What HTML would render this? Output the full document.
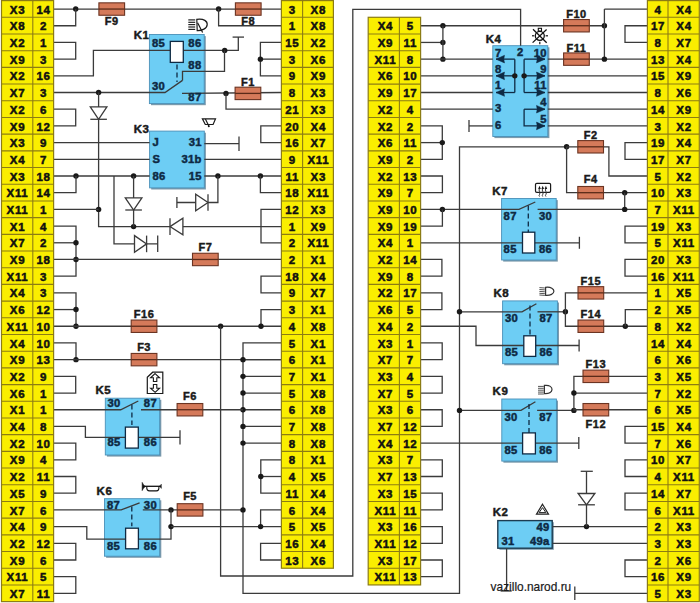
<!DOCTYPE html>
<html><head><meta charset="utf-8"><style>
html,body{margin:0;padding:0;background:#fff;width:700px;height:603px;overflow:hidden}
svg{display:block}
text{font-family:"Liberation Sans",sans-serif;font-weight:bold}
.c{font-size:11.5px;text-anchor:middle;fill:#111;stroke:#111;stroke-width:0.5;letter-spacing:0.7px}
.f{font-size:11px;text-anchor:middle;fill:#1a1a1a;stroke:#1a1a1a;stroke-width:0.45;letter-spacing:0.5px}
.p{font-size:10.2px;fill:#0e2a44;stroke:#0e2a44;stroke-width:0.45;letter-spacing:0.3px}
.k{font-size:11.5px;fill:#1a1a1a;stroke:#1a1a1a;stroke-width:0.45;letter-spacing:0.5px}
.u{font-size:11.9px;font-weight:normal;fill:#1a1a1a;stroke:#1a1a1a;stroke-width:0.2}
</style></head><body>
<svg width="700" height="603" viewBox="0 0 700 603">
<rect x="151.00" y="36.10" width="54.80" height="69.10" fill="#7d9aab"/>
<rect x="149.40" y="34.50" width="54.80" height="69.10" fill="#6dcdf4" stroke="#4a90b8" stroke-width="0.9"/>
<rect x="151.20" y="132.70" width="54.70" height="56.80" fill="#7d9aab"/>
<rect x="149.60" y="131.10" width="54.70" height="56.80" fill="#6dcdf4" stroke="#4a90b8" stroke-width="0.9"/>
<rect x="106.90" y="399.80" width="54.40" height="56.80" fill="#7d9aab"/>
<rect x="105.30" y="398.20" width="54.40" height="56.80" fill="#6dcdf4" stroke="#4a90b8" stroke-width="0.9"/>
<rect x="106.10" y="500.30" width="55.20" height="57.50" fill="#7d9aab"/>
<rect x="104.50" y="498.70" width="55.20" height="57.50" fill="#6dcdf4" stroke="#4a90b8" stroke-width="0.9"/>
<rect x="494.40" y="47.30" width="55.00" height="90.80" fill="#7d9aab"/>
<rect x="492.80" y="45.70" width="55.00" height="90.80" fill="#6dcdf4" stroke="#4a90b8" stroke-width="0.9"/>
<rect x="503.20" y="200.10" width="54.60" height="61.50" fill="#7d9aab"/>
<rect x="501.60" y="198.50" width="54.60" height="61.50" fill="#6dcdf4" stroke="#4a90b8" stroke-width="0.9"/>
<rect x="504.20" y="302.50" width="54.80" height="62.80" fill="#7d9aab"/>
<rect x="502.60" y="300.90" width="54.80" height="62.80" fill="#6dcdf4" stroke="#4a90b8" stroke-width="0.9"/>
<rect x="503.40" y="400.60" width="54.60" height="62.10" fill="#7d9aab"/>
<rect x="501.80" y="399.00" width="54.60" height="62.10" fill="#6dcdf4" stroke="#4a90b8" stroke-width="0.9"/>
<rect x="499.40" y="522.20" width="54.40" height="27.60" fill="#7d9aab"/>
<rect x="497.80" y="520.60" width="54.40" height="27.60" fill="#6dcdf4" stroke="#1d3c52" stroke-width="1.4"/>
<polyline points="53.60,9.05 281.40,9.05" fill="none" stroke="#3b3b3b" stroke-width="1.3"/>
<circle cx="75.70" cy="9.05" r="2.7" fill="#1a1a1a"/>
<polyline points="53.60,25.74 75.70,25.74 75.70,9.05" fill="none" stroke="#3b3b3b" stroke-width="1.3"/>
<polyline points="53.60,42.44 75.70,42.44 75.70,59.13 53.60,59.13" fill="none" stroke="#3b3b3b" stroke-width="1.3"/>
<circle cx="218.60" cy="9.05" r="2.7" fill="#1a1a1a"/>
<polyline points="281.40,25.74 218.60,25.74 218.60,9.05" fill="none" stroke="#3b3b3b" stroke-width="1.3"/>
<polyline points="53.60,75.83 93.40,75.83 93.40,50.40 224.70,50.40 238.30,50.40 238.30,37.10" fill="none" stroke="#3b3b3b" stroke-width="1.3"/>
<polyline points="232.60,37.10 244.00,37.10" fill="none" stroke="#3b3b3b" stroke-width="1.3"/>
<circle cx="224.70" cy="50.40" r="2.7" fill="#1a1a1a"/>
<polyline points="182.50,80.40 182.50,71.40 224.50,71.40 224.50,50.40" fill="none" stroke="#3b3b3b" stroke-width="1.3"/>
<polyline points="53.60,92.52 165.00,92.52 182.50,80.40" fill="none" stroke="#3b3b3b" stroke-width="1.3"/>
<circle cx="98.60" cy="92.52" r="2.7" fill="#1a1a1a"/>
<polyline points="182.00,93.40 281.40,92.52" fill="none" stroke="#3b3b3b" stroke-width="1.3"/>
<circle cx="226.00" cy="93.40" r="2.7" fill="#1a1a1a"/>
<polyline points="226.00,93.40 226.00,109.22 281.40,109.22" fill="none" stroke="#3b3b3b" stroke-width="1.3"/>
<polyline points="281.40,42.44 260.40,42.44 260.40,75.83 281.40,75.83" fill="none" stroke="#3b3b3b" stroke-width="1.3"/>
<polyline points="281.40,59.13 260.40,59.13" fill="none" stroke="#3b3b3b" stroke-width="1.3"/>
<circle cx="260.40" cy="59.13" r="2.7" fill="#1a1a1a"/>
<polyline points="53.60,109.22 75.70,109.22 75.70,125.91 53.60,125.91" fill="none" stroke="#3b3b3b" stroke-width="1.3"/>
<polyline points="281.40,125.91 260.80,125.91 260.80,142.61 281.40,142.61" fill="none" stroke="#3b3b3b" stroke-width="1.3"/>
<polyline points="53.60,142.61 149.60,142.61" fill="none" stroke="#3b3b3b" stroke-width="1.3"/>
<polyline points="53.60,159.30 149.60,159.30" fill="none" stroke="#3b3b3b" stroke-width="1.3"/>
<polyline points="204.30,159.30 281.40,159.30" fill="none" stroke="#3b3b3b" stroke-width="1.3"/>
<polyline points="204.30,143.70 239.00,143.70" fill="none" stroke="#3b3b3b" stroke-width="1.3"/>
<polyline points="239.00,136.40 239.00,151.00" fill="none" stroke="#3b3b3b" stroke-width="1.3"/>
<polyline points="53.60,176.00 149.60,176.00" fill="none" stroke="#3b3b3b" stroke-width="1.3"/>
<polyline points="204.30,176.00 281.40,176.00" fill="none" stroke="#3b3b3b" stroke-width="1.3"/>
<circle cx="76.00" cy="176.00" r="2.7" fill="#1a1a1a"/>
<circle cx="133.60" cy="176.00" r="2.7" fill="#1a1a1a"/>
<polyline points="53.60,192.69 76.00,192.69 76.00,176.00" fill="none" stroke="#3b3b3b" stroke-width="1.3"/>
<circle cx="217.90" cy="176.00" r="2.7" fill="#1a1a1a"/>
<circle cx="260.40" cy="176.00" r="2.7" fill="#1a1a1a"/>
<polyline points="281.40,192.69 260.40,192.69 260.40,176.00" fill="none" stroke="#3b3b3b" stroke-width="1.3"/>
<polyline points="98.60,92.52 98.60,226.60 281.40,226.60" fill="none" stroke="#3b3b3b" stroke-width="1.3"/>
<circle cx="98.60" cy="209.39" r="2.7" fill="#1a1a1a"/>
<polyline points="53.60,209.39 98.60,209.39" fill="none" stroke="#3b3b3b" stroke-width="1.3"/>
<circle cx="133.60" cy="226.60" r="2.7" fill="#1a1a1a"/>
<polyline points="133.60,176.00 133.60,226.60" fill="none" stroke="#3b3b3b" stroke-width="1.3"/>
<polyline points="114.00,176.00 114.00,243.90 157.70,243.90" fill="none" stroke="#3b3b3b" stroke-width="1.3"/>
<polyline points="157.70,235.50 157.70,252.00" fill="none" stroke="#3b3b3b" stroke-width="1.3"/>
<polyline points="217.90,176.00 217.90,202.50 176.90,202.50" fill="none" stroke="#3b3b3b" stroke-width="1.3"/>
<polyline points="176.90,197.00 176.90,208.00" fill="none" stroke="#3b3b3b" stroke-width="1.3"/>
<polyline points="281.40,209.39 261.00,209.39 261.00,242.78 281.40,242.78" fill="none" stroke="#3b3b3b" stroke-width="1.3"/>
<polyline points="53.60,226.08 76.00,226.08 76.00,276.17 53.60,276.17" fill="none" stroke="#3b3b3b" stroke-width="1.3"/>
<polyline points="53.60,242.78 76.00,242.78" fill="none" stroke="#3b3b3b" stroke-width="1.3"/>
<circle cx="76.00" cy="242.78" r="2.7" fill="#1a1a1a"/>
<circle cx="76.00" cy="259.47" r="2.7" fill="#1a1a1a"/>
<polyline points="53.60,259.47 281.40,259.47" fill="none" stroke="#3b3b3b" stroke-width="1.3"/>
<polyline points="281.40,276.17 261.00,276.17 261.00,292.86 281.40,292.86" fill="none" stroke="#3b3b3b" stroke-width="1.3"/>
<polyline points="53.60,292.86 76.00,292.86 76.00,326.25" fill="none" stroke="#3b3b3b" stroke-width="1.3"/>
<polyline points="53.60,309.56 76.00,309.56" fill="none" stroke="#3b3b3b" stroke-width="1.3"/>
<circle cx="76.00" cy="309.56" r="2.7" fill="#1a1a1a"/>
<circle cx="76.00" cy="326.25" r="2.7" fill="#1a1a1a"/>
<polyline points="53.60,326.25 281.40,326.25" fill="none" stroke="#3b3b3b" stroke-width="1.3"/>
<polyline points="281.40,309.56 261.00,309.56 261.00,326.25" fill="none" stroke="#3b3b3b" stroke-width="1.3"/>
<circle cx="261.00" cy="326.25" r="2.7" fill="#1a1a1a"/>
<circle cx="220.60" cy="326.25" r="2.7" fill="#1a1a1a"/>
<polyline points="220.60,326.25 220.60,576.00 352.80,576.00 352.80,9.40 520.60,9.40 520.60,45.70" fill="none" stroke="#3b3b3b" stroke-width="1.3"/>
<polyline points="53.60,342.95 76.00,342.95 76.00,359.64" fill="none" stroke="#3b3b3b" stroke-width="1.3"/>
<circle cx="76.00" cy="359.64" r="2.7" fill="#1a1a1a"/>
<polyline points="53.60,359.64 281.40,359.64" fill="none" stroke="#3b3b3b" stroke-width="1.3"/>
<polyline points="281.40,342.95 243.00,342.95 243.00,593.40 459.50,593.40 459.50,146.80 566.60,146.80" fill="none" stroke="#3b3b3b" stroke-width="1.3"/>
<polyline points="281.40,359.64 243.00,359.64" fill="none" stroke="#3b3b3b" stroke-width="1.3"/>
<circle cx="243.00" cy="359.64" r="2.7" fill="#1a1a1a"/>
<polyline points="281.40,376.34 243.00,376.34" fill="none" stroke="#3b3b3b" stroke-width="1.3"/>
<circle cx="243.00" cy="376.34" r="2.7" fill="#1a1a1a"/>
<polyline points="281.40,393.03 243.00,393.03" fill="none" stroke="#3b3b3b" stroke-width="1.3"/>
<circle cx="243.00" cy="393.03" r="2.7" fill="#1a1a1a"/>
<polyline points="281.40,409.73 243.00,409.73" fill="none" stroke="#3b3b3b" stroke-width="1.3"/>
<circle cx="243.00" cy="409.73" r="2.7" fill="#1a1a1a"/>
<polyline points="281.40,426.42 243.00,426.42" fill="none" stroke="#3b3b3b" stroke-width="1.3"/>
<circle cx="243.00" cy="426.42" r="2.7" fill="#1a1a1a"/>
<polyline points="281.40,443.12 243.00,443.12" fill="none" stroke="#3b3b3b" stroke-width="1.3"/>
<circle cx="243.00" cy="443.12" r="2.7" fill="#1a1a1a"/>
<polyline points="53.60,376.34 75.70,376.34 75.70,393.03 53.60,393.03" fill="none" stroke="#3b3b3b" stroke-width="1.3"/>
<polyline points="53.60,409.73 120.70,409.73 138.30,401.00" fill="none" stroke="#3b3b3b" stroke-width="1.3"/>
<polyline points="141.00,409.73 243.00,409.73" fill="none" stroke="#3b3b3b" stroke-width="1.3"/>
<polyline points="53.60,426.42 85.40,426.42 85.40,437.40 180.00,437.40" fill="none" stroke="#3b3b3b" stroke-width="1.3"/>
<polyline points="180.00,430.20 180.00,444.50" fill="none" stroke="#3b3b3b" stroke-width="1.3"/>
<polyline points="53.60,443.12 75.80,443.12 75.80,459.81 53.60,459.81" fill="none" stroke="#3b3b3b" stroke-width="1.3"/>
<polyline points="53.60,476.51 75.80,476.51 75.80,493.20 53.60,493.20" fill="none" stroke="#3b3b3b" stroke-width="1.3"/>
<polyline points="281.40,459.81 260.80,459.81 260.80,493.20 281.40,493.20" fill="none" stroke="#3b3b3b" stroke-width="1.3"/>
<polyline points="281.40,476.51 260.80,476.51" fill="none" stroke="#3b3b3b" stroke-width="1.3"/>
<circle cx="260.80" cy="476.51" r="2.7" fill="#1a1a1a"/>
<polyline points="53.60,509.90 121.20,509.90 139.60,502.90" fill="none" stroke="#3b3b3b" stroke-width="1.3"/>
<polyline points="142.80,509.90 243.00,509.90" fill="none" stroke="#3b3b3b" stroke-width="1.3"/>
<circle cx="243.00" cy="509.90" r="2.7" fill="#1a1a1a"/>
<circle cx="171.00" cy="509.90" r="2.7" fill="#1a1a1a"/>
<polyline points="53.60,526.59 86.80,526.59 86.80,539.20 171.00,539.20 171.00,509.90" fill="none" stroke="#3b3b3b" stroke-width="1.3"/>
<circle cx="171.00" cy="526.59" r="2.7" fill="#1a1a1a"/>
<polyline points="171.00,526.59 281.40,526.59" fill="none" stroke="#3b3b3b" stroke-width="1.3"/>
<polyline points="281.40,509.90 260.60,509.90 260.60,526.59" fill="none" stroke="#3b3b3b" stroke-width="1.3"/>
<circle cx="260.60" cy="526.59" r="2.7" fill="#1a1a1a"/>
<polyline points="281.40,543.29 260.60,543.29 260.60,559.98 281.40,559.98" fill="none" stroke="#3b3b3b" stroke-width="1.3"/>
<polyline points="53.60,543.29 75.80,543.29 75.80,559.98 53.60,559.98" fill="none" stroke="#3b3b3b" stroke-width="1.3"/>
<polyline points="53.60,576.68 75.80,576.68 75.80,593.37 53.60,593.37" fill="none" stroke="#3b3b3b" stroke-width="1.3"/>
<polyline points="420.60,25.74 604.40,25.74" fill="none" stroke="#3b3b3b" stroke-width="1.3"/>
<circle cx="442.90" cy="25.74" r="2.7" fill="#1a1a1a"/>
<circle cx="604.40" cy="25.74" r="2.7" fill="#1a1a1a"/>
<polyline points="604.40,9.05 647.40,9.05" fill="none" stroke="#3b3b3b" stroke-width="1.3"/>
<polyline points="604.40,9.05 604.40,59.13" fill="none" stroke="#3b3b3b" stroke-width="1.3"/>
<polyline points="420.60,42.44 442.90,42.44" fill="none" stroke="#3b3b3b" stroke-width="1.3"/>
<circle cx="442.90" cy="42.44" r="2.7" fill="#1a1a1a"/>
<polyline points="442.90,25.74 442.90,59.13" fill="none" stroke="#3b3b3b" stroke-width="1.3"/>
<circle cx="442.90" cy="59.13" r="2.7" fill="#1a1a1a"/>
<polyline points="420.60,59.13 492.80,59.13" fill="none" stroke="#3b3b3b" stroke-width="1.3"/>
<polyline points="420.60,75.83 492.80,75.83" fill="none" stroke="#3b3b3b" stroke-width="1.3"/>
<polyline points="420.60,92.52 492.80,92.52" fill="none" stroke="#3b3b3b" stroke-width="1.3"/>
<polyline points="420.60,109.22 492.80,109.22" fill="none" stroke="#3b3b3b" stroke-width="1.3"/>
<polyline points="469.00,125.91 492.80,125.91" fill="none" stroke="#3b3b3b" stroke-width="1.3"/>
<polyline points="469.00,119.91 469.00,131.91" fill="none" stroke="#3b3b3b" stroke-width="1.3"/>
<polyline points="420.60,125.91 442.30,125.91 442.30,159.30 420.60,159.30" fill="none" stroke="#3b3b3b" stroke-width="1.3"/>
<polyline points="420.60,142.61 442.30,142.61" fill="none" stroke="#3b3b3b" stroke-width="1.3"/>
<circle cx="442.30" cy="142.61" r="2.7" fill="#1a1a1a"/>
<polyline points="420.60,176.00 442.40,176.00 442.40,192.69 420.60,192.69" fill="none" stroke="#3b3b3b" stroke-width="1.3"/>
<polyline points="420.60,209.39 519.00,209.39 535.30,202.00" fill="none" stroke="#3b3b3b" stroke-width="1.3"/>
<circle cx="442.40" cy="209.39" r="2.7" fill="#1a1a1a"/>
<polyline points="420.60,226.08 442.40,226.08 442.40,209.39" fill="none" stroke="#3b3b3b" stroke-width="1.3"/>
<polyline points="420.60,242.78 579.40,242.78" fill="none" stroke="#3b3b3b" stroke-width="1.3"/>
<polyline points="579.40,236.78 579.40,248.78" fill="none" stroke="#3b3b3b" stroke-width="1.3"/>
<polyline points="420.60,259.47 441.90,259.47 441.90,276.17 420.60,276.17" fill="none" stroke="#3b3b3b" stroke-width="1.3"/>
<polyline points="420.60,292.86 441.90,292.86 441.90,309.56 420.60,309.56" fill="none" stroke="#3b3b3b" stroke-width="1.3"/>
<polyline points="420.60,326.25 476.00,326.25 476.00,345.50 579.10,345.50" fill="none" stroke="#3b3b3b" stroke-width="1.3"/>
<polyline points="579.10,339.50 579.10,351.50" fill="none" stroke="#3b3b3b" stroke-width="1.3"/>
<polyline points="420.60,342.95 442.20,342.95 442.20,359.64 420.60,359.64" fill="none" stroke="#3b3b3b" stroke-width="1.3"/>
<polyline points="420.60,376.34 442.20,376.34 442.20,393.03 420.60,393.03" fill="none" stroke="#3b3b3b" stroke-width="1.3"/>
<polyline points="420.60,409.73 442.20,409.73 442.20,426.42 420.60,426.42" fill="none" stroke="#3b3b3b" stroke-width="1.3"/>
<polyline points="420.60,443.12 578.80,443.12" fill="none" stroke="#3b3b3b" stroke-width="1.3"/>
<polyline points="578.80,437.12 578.80,449.12" fill="none" stroke="#3b3b3b" stroke-width="1.3"/>
<polyline points="420.60,459.81 442.30,459.81 442.30,476.51 420.60,476.51" fill="none" stroke="#3b3b3b" stroke-width="1.3"/>
<polyline points="420.60,493.20 442.30,493.20 442.30,509.90 420.60,509.90" fill="none" stroke="#3b3b3b" stroke-width="1.3"/>
<polyline points="420.60,526.59 442.30,526.59 442.30,543.29 420.60,543.29" fill="none" stroke="#3b3b3b" stroke-width="1.3"/>
<polyline points="420.60,559.98 442.30,559.98 442.30,576.68 420.60,576.68" fill="none" stroke="#3b3b3b" stroke-width="1.3"/>
<polyline points="459.50,311.80 522.00,311.80 536.40,303.80" fill="none" stroke="#3b3b3b" stroke-width="1.3"/>
<circle cx="459.50" cy="311.80" r="2.7" fill="#1a1a1a"/>
<polyline points="459.50,410.40 521.00,410.40 535.40,401.80" fill="none" stroke="#3b3b3b" stroke-width="1.3"/>
<circle cx="459.50" cy="410.40" r="2.7" fill="#1a1a1a"/>
<polyline points="547.80,59.13 647.40,59.13" fill="none" stroke="#3b3b3b" stroke-width="1.3"/>
<circle cx="604.40" cy="59.13" r="2.7" fill="#1a1a1a"/>
<polyline points="547.80,75.83 647.40,75.83" fill="none" stroke="#3b3b3b" stroke-width="1.3"/>
<polyline points="547.80,92.52 647.40,92.52" fill="none" stroke="#3b3b3b" stroke-width="1.3"/>
<polyline points="547.80,109.22 647.40,109.22" fill="none" stroke="#3b3b3b" stroke-width="1.3"/>
<polyline points="547.80,125.91 647.40,125.91" fill="none" stroke="#3b3b3b" stroke-width="1.3"/>
<circle cx="566.60" cy="146.80" r="2.7" fill="#1a1a1a"/>
<polyline points="566.60,146.80 608.90,146.80 608.90,176.00 647.40,176.00" fill="none" stroke="#3b3b3b" stroke-width="1.3"/>
<polyline points="566.60,146.80 566.60,192.69 647.40,192.69" fill="none" stroke="#3b3b3b" stroke-width="1.3"/>
<circle cx="624.70" cy="192.69" r="2.7" fill="#1a1a1a"/>
<polyline points="537.60,209.39 647.40,209.39" fill="none" stroke="#3b3b3b" stroke-width="1.3"/>
<polyline points="624.70,192.69 624.70,209.39" fill="none" stroke="#3b3b3b" stroke-width="1.3"/>
<circle cx="624.70" cy="209.39" r="2.7" fill="#1a1a1a"/>
<polyline points="647.40,25.74 625.00,25.74 625.00,42.44 647.40,42.44" fill="none" stroke="#3b3b3b" stroke-width="1.3"/>
<polyline points="647.40,142.61 625.00,142.61 625.00,159.30 647.40,159.30" fill="none" stroke="#3b3b3b" stroke-width="1.3"/>
<polyline points="647.40,226.08 625.00,226.08 625.00,242.78 647.40,242.78" fill="none" stroke="#3b3b3b" stroke-width="1.3"/>
<polyline points="647.40,259.47 625.00,259.47 625.00,276.17 647.40,276.17" fill="none" stroke="#3b3b3b" stroke-width="1.3"/>
<polyline points="647.40,426.42 625.00,426.42 625.00,443.12 647.40,443.12" fill="none" stroke="#3b3b3b" stroke-width="1.3"/>
<polyline points="647.40,459.81 625.00,459.81 625.00,476.51 647.40,476.51" fill="none" stroke="#3b3b3b" stroke-width="1.3"/>
<polyline points="647.40,493.20 625.00,493.20 625.00,509.90 647.40,509.90" fill="none" stroke="#3b3b3b" stroke-width="1.3"/>
<polyline points="647.40,559.98 625.00,559.98 625.00,576.68 647.40,576.68" fill="none" stroke="#3b3b3b" stroke-width="1.3"/>
<polyline points="537.50,311.80 565.40,311.80" fill="none" stroke="#3b3b3b" stroke-width="1.3"/>
<circle cx="565.40" cy="311.80" r="2.7" fill="#1a1a1a"/>
<polyline points="647.40,292.86 565.40,292.86 565.40,326.25 647.40,326.25" fill="none" stroke="#3b3b3b" stroke-width="1.3"/>
<circle cx="625.30" cy="326.25" r="2.7" fill="#1a1a1a"/>
<polyline points="647.40,309.56 625.30,309.56 625.30,326.25" fill="none" stroke="#3b3b3b" stroke-width="1.3"/>
<polyline points="537.10,410.40 573.90,410.40" fill="none" stroke="#3b3b3b" stroke-width="1.3"/>
<circle cx="573.90" cy="410.40" r="2.7" fill="#1a1a1a"/>
<polyline points="647.40,376.34 573.90,376.34 573.90,410.40" fill="none" stroke="#3b3b3b" stroke-width="1.3"/>
<polyline points="573.90,409.73 647.40,409.73" fill="none" stroke="#3b3b3b" stroke-width="1.3"/>
<polyline points="573.90,393.03 647.40,393.03" fill="none" stroke="#3b3b3b" stroke-width="1.3"/>
<circle cx="573.90" cy="393.03" r="2.7" fill="#1a1a1a"/>
<polyline points="552.40,526.59 647.40,526.59" fill="none" stroke="#3b3b3b" stroke-width="1.3"/>
<circle cx="586.50" cy="526.59" r="2.7" fill="#1a1a1a"/>
<polyline points="586.50,471.30 586.50,526.59" fill="none" stroke="#3b3b3b" stroke-width="1.3"/>
<polyline points="580.70,471.30 592.80,471.30" fill="none" stroke="#3b3b3b" stroke-width="1.3"/>
<polyline points="552.40,543.29 647.40,543.29" fill="none" stroke="#3b3b3b" stroke-width="1.3"/>
<polyline points="574.80,593.37 647.40,593.37" fill="none" stroke="#3b3b3b" stroke-width="1.3"/>
<polyline points="574.80,586.60 574.80,600.00" fill="none" stroke="#3b3b3b" stroke-width="1.3"/>
<polyline points="506.60,548.20 506.60,591.00" fill="none" stroke="#3b3b3b" stroke-width="1.3"/>
<polyline points="500.60,591.00 511.70,591.00" fill="none" stroke="#3b3b3b" stroke-width="1.3"/>
<rect x="170.30" y="41.40" width="13.00" height="21.00" fill="#fff" stroke="#0e2a44" stroke-width="1.3"/>
<line x1="177.00" y1="64.50" x2="177.00" y2="82.00" stroke="#0e2a44" stroke-width="1.3" stroke-dasharray="5,3"/>
<text transform="matrix(1.1,0,0,1,152.00,46.90)" class="p" text-anchor="start">85</text>
<text transform="matrix(1.1,0,0,1,201.50,46.90)" class="p" text-anchor="end">86</text>
<text transform="matrix(1.1,0,0,1,201.50,68.60)" class="p" text-anchor="end">88</text>
<text transform="matrix(1.1,0,0,1,152.00,90.20)" class="p" text-anchor="start">30</text>
<text transform="matrix(1.1,0,0,1,201.50,101.30)" class="p" text-anchor="end">87</text>
<text transform="matrix(1.1,0,0,1,152.50,146.40)" class="p" text-anchor="start">J</text>
<text transform="matrix(1.1,0,0,1,152.50,163.00)" class="p" text-anchor="start">S</text>
<text transform="matrix(1.1,0,0,1,152.50,179.90)" class="p" text-anchor="start">86</text>
<text transform="matrix(1.1,0,0,1,201.80,146.20)" class="p" text-anchor="end">31</text>
<text transform="matrix(1.1,0,0,1,201.80,162.80)" class="p" text-anchor="end">31b</text>
<text transform="matrix(1.1,0,0,1,201.80,179.60)" class="p" text-anchor="end">15</text>
<rect x="125.40" y="427.10" width="12.90" height="21.00" fill="#fff" stroke="#0e2a44" stroke-width="1.3"/>
<line x1="131.90" y1="404.60" x2="131.90" y2="425.00" stroke="#0e2a44" stroke-width="1.3" stroke-dasharray="5,3"/>
<text transform="matrix(1.1,0,0,1,107.40,406.80)" class="p" text-anchor="start">30</text>
<text transform="matrix(1.1,0,0,1,157.00,406.80)" class="p" text-anchor="end">87</text>
<text transform="matrix(1.1,0,0,1,107.40,446.40)" class="p" text-anchor="start">85</text>
<text transform="matrix(1.1,0,0,1,157.00,446.40)" class="p" text-anchor="end">86</text>
<rect x="125.60" y="528.20" width="12.80" height="20.60" fill="#fff" stroke="#0e2a44" stroke-width="1.3"/>
<line x1="131.80" y1="506.60" x2="131.80" y2="526.20" stroke="#0e2a44" stroke-width="1.3" stroke-dasharray="5,3"/>
<text transform="matrix(1.1,0,0,1,107.00,508.50)" class="p" text-anchor="start">87</text>
<text transform="matrix(1.1,0,0,1,157.00,508.50)" class="p" text-anchor="end">30</text>
<text transform="matrix(1.1,0,0,1,107.00,549.50)" class="p" text-anchor="start">85</text>
<text transform="matrix(1.1,0,0,1,157.00,549.50)" class="p" text-anchor="end">86</text>
<rect x="522.50" y="232.20" width="12.30" height="20.80" fill="#fff" stroke="#0e2a44" stroke-width="1.3"/>
<line x1="528.30" y1="205.50" x2="528.30" y2="232.20" stroke="#0e2a44" stroke-width="1.3" stroke-dasharray="5,3"/>
<text transform="matrix(1.1,0,0,1,503.60,220.20)" class="p" text-anchor="start">87</text>
<text transform="matrix(1.1,0,0,1,552.20,220.20)" class="p" text-anchor="end">30</text>
<text transform="matrix(1.1,0,0,1,503.60,252.90)" class="p" text-anchor="start">85</text>
<text transform="matrix(1.1,0,0,1,552.20,252.90)" class="p" text-anchor="end">86</text>
<rect x="523.80" y="335.80" width="11.90" height="20.60" fill="#fff" stroke="#0e2a44" stroke-width="1.3"/>
<line x1="530.00" y1="305.50" x2="530.00" y2="335.00" stroke="#0e2a44" stroke-width="1.3" stroke-dasharray="5,3"/>
<text transform="matrix(1.1,0,0,1,505.00,322.30)" class="p" text-anchor="start">30</text>
<text transform="matrix(1.1,0,0,1,552.60,322.30)" class="p" text-anchor="end">87</text>
<text transform="matrix(1.1,0,0,1,505.00,355.80)" class="p" text-anchor="start">85</text>
<text transform="matrix(1.1,0,0,1,552.60,355.80)" class="p" text-anchor="end">86</text>
<rect x="522.60" y="432.90" width="12.80" height="21.00" fill="#fff" stroke="#0e2a44" stroke-width="1.3"/>
<line x1="529.00" y1="404.00" x2="529.00" y2="432.90" stroke="#0e2a44" stroke-width="1.3" stroke-dasharray="5,3"/>
<text transform="matrix(1.1,0,0,1,504.50,421.00)" class="p" text-anchor="start">30</text>
<text transform="matrix(1.1,0,0,1,552.30,421.00)" class="p" text-anchor="end">87</text>
<text transform="matrix(1.1,0,0,1,504.50,454.30)" class="p" text-anchor="start">85</text>
<text transform="matrix(1.1,0,0,1,552.30,454.30)" class="p" text-anchor="end">86</text>
<text transform="matrix(1.1,0,0,1,549.60,531.00)" class="p" text-anchor="end">49</text>
<text transform="matrix(1.1,0,0,1,549.60,545.30)" class="p" text-anchor="end">49a</text>
<text transform="matrix(1.1,0,0,1,501.50,545.30)" class="p" text-anchor="start">31</text>
<polyline points="496.00,59.13 514.80,59.13" fill="none" stroke="#0e2a44" stroke-width="1.3"/>
<path d="M496.00,59.13 L504.50,55.33 L503.80,59.13 L504.50,62.93Z" fill="#0e2a44" stroke="#0e2a44" stroke-width="0.5"/>
<polyline points="496.00,75.83 514.80,75.83" fill="none" stroke="#0e2a44" stroke-width="1.3"/>
<path d="M496.00,75.83 L504.50,72.03 L503.80,75.83 L504.50,79.63Z" fill="#0e2a44" stroke="#0e2a44" stroke-width="0.5"/>
<polyline points="496.00,92.52 514.80,92.52" fill="none" stroke="#0e2a44" stroke-width="1.3"/>
<path d="M496.00,92.52 L504.50,88.72 L503.80,92.52 L504.50,96.32Z" fill="#0e2a44" stroke="#0e2a44" stroke-width="0.5"/>
<polyline points="514.80,59.13 514.80,92.52" fill="none" stroke="#0e2a44" stroke-width="1.3"/>
<circle cx="514.80" cy="75.83" r="2.7" fill="#1a1a1a"/>
<polyline points="524.10,75.83 545.00,75.83" fill="none" stroke="#0e2a44" stroke-width="1.3"/>
<path d="M545.00,75.83 L536.50,72.03 L537.20,75.83 L536.50,79.63Z" fill="#0e2a44" stroke="#0e2a44" stroke-width="0.5"/>
<polyline points="524.10,92.52 545.00,92.52" fill="none" stroke="#0e2a44" stroke-width="1.3"/>
<path d="M545.00,92.52 L536.50,88.72 L537.20,92.52 L536.50,96.32Z" fill="#0e2a44" stroke="#0e2a44" stroke-width="0.5"/>
<polyline points="524.10,109.22 545.00,109.22" fill="none" stroke="#0e2a44" stroke-width="1.3"/>
<path d="M545.00,109.22 L536.50,105.42 L537.20,109.22 L536.50,113.02Z" fill="#0e2a44" stroke="#0e2a44" stroke-width="0.5"/>
<polyline points="524.10,59.13 545.00,59.13" fill="none" stroke="#0e2a44" stroke-width="1.3"/>
<path d="M545.00,59.13 L536.50,55.33 L537.20,59.13 L536.50,62.93Z" fill="#0e2a44" stroke="#0e2a44" stroke-width="0.5"/>
<polyline points="524.10,59.13 524.10,92.52" fill="none" stroke="#0e2a44" stroke-width="1.3"/>
<circle cx="524.10" cy="75.83" r="2.7" fill="#1a1a1a"/>
<polyline points="524.10,109.22 524.10,125.91 545.00,125.91" fill="none" stroke="#0e2a44" stroke-width="1.3"/>
<path d="M545.00,125.91 L536.50,122.11 L537.20,125.91 L536.50,129.71Z" fill="#0e2a44" stroke="#0e2a44" stroke-width="0.5"/>
<text transform="matrix(1.1,0,0,1,495.00,56.90)" class="p" text-anchor="start">7</text>
<text transform="matrix(1.1,0,0,1,495.00,72.60)" class="p" text-anchor="start">8</text>
<text transform="matrix(1.1,0,0,1,495.00,89.40)" class="p" text-anchor="start">1</text>
<text transform="matrix(1.1,0,0,1,495.00,112.00)" class="p" text-anchor="start">3</text>
<text transform="matrix(1.1,0,0,1,495.00,129.00)" class="p" text-anchor="start">6</text>
<text transform="matrix(1.1,0,0,1,520.30,55.70)" class="p" text-anchor="middle">2</text>
<text transform="matrix(1.1,0,0,1,546.80,56.90)" class="p" text-anchor="end">10</text>
<text transform="matrix(1.1,0,0,1,546.80,72.60)" class="p" text-anchor="end">9</text>
<text transform="matrix(1.1,0,0,1,546.80,89.40)" class="p" text-anchor="end">11</text>
<text transform="matrix(1.1,0,0,1,546.80,106.00)" class="p" text-anchor="end">4</text>
<text transform="matrix(1.1,0,0,1,546.80,122.50)" class="p" text-anchor="end">5</text>
<rect x="98.90" y="2.85" width="25.7" height="12.4" fill="#d57a5a" stroke="#6b3422" stroke-width="1.1"/>
<line x1="98.90" y1="9.05" x2="124.60" y2="9.05" stroke="#5a2a18" stroke-width="1.3"/>
<text x="111.75" y="24.80" class="f">F9</text>
<rect x="235.40" y="2.85" width="25.7" height="12.4" fill="#d57a5a" stroke="#6b3422" stroke-width="1.1"/>
<line x1="235.40" y1="9.05" x2="261.10" y2="9.05" stroke="#5a2a18" stroke-width="1.3"/>
<text x="248.25" y="25.00" class="f">F8</text>
<rect x="235.10" y="87.20" width="25.7" height="12.4" fill="#d57a5a" stroke="#6b3422" stroke-width="1.1"/>
<line x1="235.10" y1="93.40" x2="260.80" y2="93.40" stroke="#5a2a18" stroke-width="1.3"/>
<text x="247.95" y="86.40" class="f">F1</text>
<rect x="192.50" y="253.27" width="25.7" height="12.4" fill="#d57a5a" stroke="#6b3422" stroke-width="1.1"/>
<line x1="192.50" y1="259.47" x2="218.20" y2="259.47" stroke="#5a2a18" stroke-width="1.3"/>
<text x="205.35" y="250.70" class="f">F7</text>
<rect x="131.20" y="320.05" width="25.7" height="12.4" fill="#d57a5a" stroke="#6b3422" stroke-width="1.1"/>
<line x1="131.20" y1="326.25" x2="156.90" y2="326.25" stroke="#5a2a18" stroke-width="1.3"/>
<text x="144.05" y="317.70" class="f">F16</text>
<rect x="131.20" y="353.44" width="25.7" height="12.4" fill="#d57a5a" stroke="#6b3422" stroke-width="1.1"/>
<line x1="131.20" y1="359.64" x2="156.90" y2="359.64" stroke="#5a2a18" stroke-width="1.3"/>
<text x="144.05" y="350.60" class="f">F3</text>
<rect x="177.10" y="403.53" width="25.7" height="12.4" fill="#d57a5a" stroke="#6b3422" stroke-width="1.1"/>
<line x1="177.10" y1="409.73" x2="202.80" y2="409.73" stroke="#5a2a18" stroke-width="1.3"/>
<text x="189.95" y="400.00" class="f">F6</text>
<rect x="177.20" y="503.70" width="25.7" height="12.4" fill="#d57a5a" stroke="#6b3422" stroke-width="1.1"/>
<line x1="177.20" y1="509.90" x2="202.90" y2="509.90" stroke="#5a2a18" stroke-width="1.3"/>
<text x="190.05" y="500.40" class="f">F5</text>
<rect x="563.60" y="19.54" width="25.7" height="12.4" fill="#d57a5a" stroke="#6b3422" stroke-width="1.1"/>
<line x1="563.60" y1="25.74" x2="589.30" y2="25.74" stroke="#5a2a18" stroke-width="1.3"/>
<text x="576.45" y="18.10" class="f">F10</text>
<rect x="563.60" y="52.93" width="25.7" height="12.4" fill="#d57a5a" stroke="#6b3422" stroke-width="1.1"/>
<line x1="563.60" y1="59.13" x2="589.30" y2="59.13" stroke="#5a2a18" stroke-width="1.3"/>
<text x="576.45" y="51.50" class="f">F11</text>
<rect x="577.80" y="140.60" width="25.7" height="12.4" fill="#d57a5a" stroke="#6b3422" stroke-width="1.1"/>
<line x1="577.80" y1="146.80" x2="603.50" y2="146.80" stroke="#5a2a18" stroke-width="1.3"/>
<text x="590.65" y="139.30" class="f">F2</text>
<rect x="577.80" y="186.49" width="25.7" height="12.4" fill="#d57a5a" stroke="#6b3422" stroke-width="1.1"/>
<line x1="577.80" y1="192.69" x2="603.50" y2="192.69" stroke="#5a2a18" stroke-width="1.3"/>
<text x="590.65" y="183.40" class="f">F4</text>
<rect x="578.00" y="286.66" width="25.7" height="12.4" fill="#d57a5a" stroke="#6b3422" stroke-width="1.1"/>
<line x1="578.00" y1="292.86" x2="603.70" y2="292.86" stroke="#5a2a18" stroke-width="1.3"/>
<text x="590.85" y="284.90" class="f">F15</text>
<rect x="578.00" y="320.05" width="25.7" height="12.4" fill="#d57a5a" stroke="#6b3422" stroke-width="1.1"/>
<line x1="578.00" y1="326.25" x2="603.70" y2="326.25" stroke="#5a2a18" stroke-width="1.3"/>
<text x="590.85" y="318.00" class="f">F14</text>
<rect x="583.00" y="370.14" width="25.7" height="12.4" fill="#d57a5a" stroke="#6b3422" stroke-width="1.1"/>
<line x1="583.00" y1="376.34" x2="608.70" y2="376.34" stroke="#5a2a18" stroke-width="1.3"/>
<text x="595.85" y="367.50" class="f">F13</text>
<rect x="583.00" y="403.53" width="25.7" height="12.4" fill="#d57a5a" stroke="#6b3422" stroke-width="1.1"/>
<line x1="583.00" y1="409.73" x2="608.70" y2="409.73" stroke="#5a2a18" stroke-width="1.3"/>
<text x="595.85" y="427.60" class="f">F12</text>
<text x="133.70" y="38.70" class="k" text-anchor="start">K1</text>
<text x="133.70" y="133.00" class="k" text-anchor="start">K3</text>
<text x="95.40" y="393.90" class="k" text-anchor="start">K5</text>
<text x="96.60" y="494.80" class="k" text-anchor="start">K6</text>
<text x="485.80" y="43.00" class="k" text-anchor="start">K4</text>
<text x="492.30" y="194.60" class="k" text-anchor="start">K7</text>
<text x="493.40" y="297.20" class="k" text-anchor="start">K8</text>
<text x="492.60" y="395.40" class="k" text-anchor="start">K9</text>
<text x="492.70" y="515.70" class="k" text-anchor="start">K2</text>
<text x="490.6" y="590.9" class="u">vazillo.narod.ru</text>
<path d="M90.30,106.90 L106.90,106.90 L98.60,119.30 Z" fill="#fff" stroke="#3b3b3b" stroke-width="1.3" stroke-linejoin="miter"/>
<polyline points="90.30,119.30 106.90,119.30" fill="none" stroke="#3b3b3b" stroke-width="1.3"/>
<path d="M125.30,197.90 L141.90,197.90 L133.60,210.00 Z" fill="#fff" stroke="#3b3b3b" stroke-width="1.3" stroke-linejoin="miter"/>
<polyline points="125.30,210.00 141.90,210.00" fill="none" stroke="#3b3b3b" stroke-width="1.3"/>
<path d="M182.90,218.30 L182.90,234.90 L170.00,226.60 Z" fill="#fff" stroke="#3b3b3b" stroke-width="1.3"/>
<polyline points="170.00,218.30 170.00,234.90" fill="none" stroke="#3b3b3b" stroke-width="1.3"/>
<path d="M134.50,235.60 L134.50,252.20 L146.60,243.90 Z" fill="#fff" stroke="#3b3b3b" stroke-width="1.3"/>
<polyline points="146.60,235.60 146.60,252.20" fill="none" stroke="#3b3b3b" stroke-width="1.3"/>
<path d="M195.70,194.20 L195.70,210.80 L208.00,202.50 Z" fill="#fff" stroke="#3b3b3b" stroke-width="1.3"/>
<polyline points="208.00,194.20 208.00,210.80" fill="none" stroke="#3b3b3b" stroke-width="1.3"/>
<path d="M578.10,493.50 L594.90,493.50 L586.50,504.80 Z" fill="#fff" stroke="#3b3b3b" stroke-width="1.3" stroke-linejoin="miter"/>
<polyline points="578.10,504.80 594.90,504.80" fill="none" stroke="#3b3b3b" stroke-width="1.3"/>
<polyline points="188.30,19.90 195.20,19.90" fill="none" stroke="#222" stroke-width="1.2"/>
<polyline points="188.30,22.30 195.20,22.30" fill="none" stroke="#222" stroke-width="1.2"/>
<polyline points="188.30,24.60 195.20,24.60" fill="none" stroke="#222" stroke-width="1.2"/>
<polyline points="188.30,27.00 195.20,27.00" fill="none" stroke="#222" stroke-width="1.2"/>
<polyline points="188.30,29.40 195.20,29.40" fill="none" stroke="#222" stroke-width="1.2"/>
<path d="M196.8,19.3 C204,18.2 207.5,21.5 207.2,24.6 C207,28.5 202,30.8 197.2,30.6 Z" fill="#fff" stroke="#1a1a1a" stroke-width="1.2"/>
<polyline points="197.60,22.80 202.60,32.50" fill="none" stroke="#1a1a1a" stroke-width="1.2"/>
<path d="M202.4,118.9 L215.5,118.9 L213.1,124.5 L205.3,124.5 Z" fill="none" stroke="#1a1a1a" stroke-width="1.2"/>
<polyline points="205.40,119.00 208.80,126.00" fill="none" stroke="#1a1a1a" stroke-width="1.2"/>
<circle cx="208.80" cy="126.20" r="1.0" fill="#1a1a1a"/>
<path d="M147.3,377.3 L152.7,372.2 L162.8,372.2 L162.8,393.5 L147.3,393.5 Z" fill="#fff" stroke="#1a1a1a" stroke-width="1.2"/>
<path d="M155.1,373.6 L159.6,377.8 L156.8,377.8 L156.8,381.5 L153.4,381.5 L153.4,377.8 L150.6,377.8 Z" fill="#fff" stroke="#1a1a1a" stroke-width="1.1"/>
<path d="M155.1,392.3 L159.6,388.2 L156.8,388.2 L156.8,384.5 L153.4,384.5 L153.4,388.2 L150.6,388.2 Z" fill="#fff" stroke="#1a1a1a" stroke-width="1.1"/>
<path d="M142.2,482.4 L142.2,490.6 Q143.3,487.2 145.6,486.4 Q143.3,485.6 142.2,482.4 Z" fill="#111" stroke="#111" stroke-width="0.6"/>
<polyline points="144.50,486.30 160.00,486.30" fill="none" stroke="#111" stroke-width="1.3"/>
<path d="M161.3,484.2 L161.3,488.4 Q160.6,486.8 159.2,486.3 Q160.6,485.8 161.3,484.2 Z" fill="#111" stroke="#111" stroke-width="0.5"/>
<path d="M146.8,486.8 Q146.4,490.9 149.6,490.9 L156.3,490.9 Q159.3,490.9 158.9,486.8" fill="none" stroke="#111" stroke-width="1.1"/>
<circle cx="539.8" cy="35.8" r="4.5" fill="none" stroke="#111" stroke-width="1.3"/>
<rect x="538.3" y="28.3" width="3.2" height="2.8" fill="none" stroke="#111" stroke-width="1.1"/>
<polyline points="533.00,29.30 546.70,42.80" fill="none" stroke="#111" stroke-width="1.3"/>
<polyline points="546.60,29.50 532.60,42.60" fill="none" stroke="#111" stroke-width="1.3"/>
<polyline points="532.00,35.80 534.20,35.80" fill="none" stroke="#111" stroke-width="1.2"/>
<polyline points="545.60,35.80 548.00,35.80" fill="none" stroke="#111" stroke-width="1.2"/>
<polyline points="539.80,41.80 539.80,44.20" fill="none" stroke="#111" stroke-width="1.2"/>
<rect x="535.5" y="183.3" width="15.1" height="9.0" rx="1.3" fill="#fff" stroke="#1a1a1a" stroke-width="1.2"/>
<path d="M538.20,189 L539.50,185.8 L540.80,189 Z" fill="#111"/>
<path d="M539.50,188.5 q-0.9,1.5 0,3 q0.9,1.5 0,3 q-0.9,1.2 0,2" fill="none" stroke="#333" stroke-width="1"/>
<path d="M541.40,189 L542.70,185.8 L544.00,189 Z" fill="#111"/>
<path d="M542.70,188.5 q-0.9,1.5 0,3 q0.9,1.5 0,3 q-0.9,1.2 0,2" fill="none" stroke="#333" stroke-width="1"/>
<path d="M544.60,189 L545.90,185.8 L547.20,189 Z" fill="#111"/>
<path d="M545.90,188.5 q-0.9,1.5 0,3 q0.9,1.5 0,3 q-0.9,1.2 0,2" fill="none" stroke="#333" stroke-width="1"/>
<polyline points="539.40,287.60 544.90,288.00" fill="none" stroke="#555" stroke-width="1.0"/>
<polyline points="539.40,289.50 544.90,289.90" fill="none" stroke="#555" stroke-width="1.0"/>
<polyline points="539.40,291.40 544.90,291.80" fill="none" stroke="#555" stroke-width="1.0"/>
<polyline points="539.40,293.30 544.90,293.70" fill="none" stroke="#555" stroke-width="1.0"/>
<polyline points="539.40,295.00 544.90,295.40" fill="none" stroke="#555" stroke-width="1.0"/>
<path d="M545.6,287.3 C551,286.6 554,289 553.9,291.3 C553.8,293.8 550.5,295.6 545.6,295.3 Z" fill="#fff" stroke="#333" stroke-width="1.2"/>
<polyline points="538.00,386.40 543.80,386.40" fill="none" stroke="#555" stroke-width="1.0"/>
<polyline points="538.00,388.30 543.80,388.30" fill="none" stroke="#555" stroke-width="1.0"/>
<polyline points="538.00,390.20 543.80,390.20" fill="none" stroke="#555" stroke-width="1.0"/>
<polyline points="538.00,392.10 543.80,392.10" fill="none" stroke="#555" stroke-width="1.0"/>
<polyline points="538.00,394.00 543.80,394.00" fill="none" stroke="#555" stroke-width="1.0"/>
<path d="M544.4,385.4 C549.8,384.7 552.2,387.3 552.0,389.6 C551.8,392.0 549,393.9 544.4,393.6 Z" fill="#fff" stroke="#333" stroke-width="1.2"/>
<path d="M542.5,504.2 L548.5,514.2 L536.5,514.2 Z" fill="none" stroke="#222" stroke-width="1.2"/>
<path d="M542.5,507.6 L545.9,512.6 L539.1,512.6 Z" fill="none" stroke="#222" stroke-width="1.0"/>
<rect x="1.5" y="0.6" width="52.1" height="601.02" fill="#faee00" stroke="#8c7c14" stroke-width="1.2"/>
<line x1="32.8" y1="0.6" x2="32.8" y2="601.62" stroke="#8c7c14" stroke-width="1.1"/>
<line x1="1.5" y1="17.30" x2="53.6" y2="17.30" stroke="#8c7c14" stroke-width="1.1"/>
<line x1="1.5" y1="33.99" x2="53.6" y2="33.99" stroke="#8c7c14" stroke-width="1.1"/>
<line x1="1.5" y1="50.69" x2="53.6" y2="50.69" stroke="#8c7c14" stroke-width="1.1"/>
<line x1="1.5" y1="67.38" x2="53.6" y2="67.38" stroke="#8c7c14" stroke-width="1.1"/>
<line x1="1.5" y1="84.07" x2="53.6" y2="84.07" stroke="#8c7c14" stroke-width="1.1"/>
<line x1="1.5" y1="100.77" x2="53.6" y2="100.77" stroke="#8c7c14" stroke-width="1.1"/>
<line x1="1.5" y1="117.47" x2="53.6" y2="117.47" stroke="#8c7c14" stroke-width="1.1"/>
<line x1="1.5" y1="134.16" x2="53.6" y2="134.16" stroke="#8c7c14" stroke-width="1.1"/>
<line x1="1.5" y1="150.85" x2="53.6" y2="150.85" stroke="#8c7c14" stroke-width="1.1"/>
<line x1="1.5" y1="167.55" x2="53.6" y2="167.55" stroke="#8c7c14" stroke-width="1.1"/>
<line x1="1.5" y1="184.25" x2="53.6" y2="184.25" stroke="#8c7c14" stroke-width="1.1"/>
<line x1="1.5" y1="200.94" x2="53.6" y2="200.94" stroke="#8c7c14" stroke-width="1.1"/>
<line x1="1.5" y1="217.63" x2="53.6" y2="217.63" stroke="#8c7c14" stroke-width="1.1"/>
<line x1="1.5" y1="234.33" x2="53.6" y2="234.33" stroke="#8c7c14" stroke-width="1.1"/>
<line x1="1.5" y1="251.03" x2="53.6" y2="251.03" stroke="#8c7c14" stroke-width="1.1"/>
<line x1="1.5" y1="267.72" x2="53.6" y2="267.72" stroke="#8c7c14" stroke-width="1.1"/>
<line x1="1.5" y1="284.42" x2="53.6" y2="284.42" stroke="#8c7c14" stroke-width="1.1"/>
<line x1="1.5" y1="301.11" x2="53.6" y2="301.11" stroke="#8c7c14" stroke-width="1.1"/>
<line x1="1.5" y1="317.81" x2="53.6" y2="317.81" stroke="#8c7c14" stroke-width="1.1"/>
<line x1="1.5" y1="334.50" x2="53.6" y2="334.50" stroke="#8c7c14" stroke-width="1.1"/>
<line x1="1.5" y1="351.20" x2="53.6" y2="351.20" stroke="#8c7c14" stroke-width="1.1"/>
<line x1="1.5" y1="367.89" x2="53.6" y2="367.89" stroke="#8c7c14" stroke-width="1.1"/>
<line x1="1.5" y1="384.59" x2="53.6" y2="384.59" stroke="#8c7c14" stroke-width="1.1"/>
<line x1="1.5" y1="401.28" x2="53.6" y2="401.28" stroke="#8c7c14" stroke-width="1.1"/>
<line x1="1.5" y1="417.98" x2="53.6" y2="417.98" stroke="#8c7c14" stroke-width="1.1"/>
<line x1="1.5" y1="434.67" x2="53.6" y2="434.67" stroke="#8c7c14" stroke-width="1.1"/>
<line x1="1.5" y1="451.37" x2="53.6" y2="451.37" stroke="#8c7c14" stroke-width="1.1"/>
<line x1="1.5" y1="468.06" x2="53.6" y2="468.06" stroke="#8c7c14" stroke-width="1.1"/>
<line x1="1.5" y1="484.76" x2="53.6" y2="484.76" stroke="#8c7c14" stroke-width="1.1"/>
<line x1="1.5" y1="501.45" x2="53.6" y2="501.45" stroke="#8c7c14" stroke-width="1.1"/>
<line x1="1.5" y1="518.14" x2="53.6" y2="518.14" stroke="#8c7c14" stroke-width="1.1"/>
<line x1="1.5" y1="534.84" x2="53.6" y2="534.84" stroke="#8c7c14" stroke-width="1.1"/>
<line x1="1.5" y1="551.54" x2="53.6" y2="551.54" stroke="#8c7c14" stroke-width="1.1"/>
<line x1="1.5" y1="568.23" x2="53.6" y2="568.23" stroke="#8c7c14" stroke-width="1.1"/>
<line x1="1.5" y1="584.93" x2="53.6" y2="584.93" stroke="#8c7c14" stroke-width="1.1"/>
<text x="17.50" y="13.65" class="c">X3</text>
<text x="43.55" y="13.65" class="c">14</text>
<text x="17.50" y="30.34" class="c">X8</text>
<text x="43.55" y="30.34" class="c">2</text>
<text x="17.50" y="47.04" class="c">X2</text>
<text x="43.55" y="47.04" class="c">1</text>
<text x="17.50" y="63.73" class="c">X9</text>
<text x="43.55" y="63.73" class="c">3</text>
<text x="17.50" y="80.43" class="c">X2</text>
<text x="43.55" y="80.43" class="c">16</text>
<text x="17.50" y="97.12" class="c">X7</text>
<text x="43.55" y="97.12" class="c">3</text>
<text x="17.50" y="113.82" class="c">X2</text>
<text x="43.55" y="113.82" class="c">6</text>
<text x="17.50" y="130.51" class="c">X9</text>
<text x="43.55" y="130.51" class="c">12</text>
<text x="17.50" y="147.21" class="c">X3</text>
<text x="43.55" y="147.21" class="c">9</text>
<text x="17.50" y="163.90" class="c">X4</text>
<text x="43.55" y="163.90" class="c">7</text>
<text x="17.50" y="180.60" class="c">X3</text>
<text x="43.55" y="180.60" class="c">18</text>
<text x="17.50" y="197.29" class="c">X11</text>
<text x="43.55" y="197.29" class="c">14</text>
<text x="17.50" y="213.99" class="c">X11</text>
<text x="43.55" y="213.99" class="c">1</text>
<text x="17.50" y="230.68" class="c">X1</text>
<text x="43.55" y="230.68" class="c">4</text>
<text x="17.50" y="247.38" class="c">X7</text>
<text x="43.55" y="247.38" class="c">2</text>
<text x="17.50" y="264.07" class="c">X9</text>
<text x="43.55" y="264.07" class="c">18</text>
<text x="17.50" y="280.77" class="c">X11</text>
<text x="43.55" y="280.77" class="c">3</text>
<text x="17.50" y="297.46" class="c">X4</text>
<text x="43.55" y="297.46" class="c">3</text>
<text x="17.50" y="314.16" class="c">X6</text>
<text x="43.55" y="314.16" class="c">12</text>
<text x="17.50" y="330.85" class="c">X11</text>
<text x="43.55" y="330.85" class="c">10</text>
<text x="17.50" y="347.55" class="c">X4</text>
<text x="43.55" y="347.55" class="c">10</text>
<text x="17.50" y="364.24" class="c">X9</text>
<text x="43.55" y="364.24" class="c">13</text>
<text x="17.50" y="380.94" class="c">X2</text>
<text x="43.55" y="380.94" class="c">9</text>
<text x="17.50" y="397.63" class="c">X6</text>
<text x="43.55" y="397.63" class="c">1</text>
<text x="17.50" y="414.33" class="c">X1</text>
<text x="43.55" y="414.33" class="c">1</text>
<text x="17.50" y="431.02" class="c">X4</text>
<text x="43.55" y="431.02" class="c">8</text>
<text x="17.50" y="447.72" class="c">X2</text>
<text x="43.55" y="447.72" class="c">10</text>
<text x="17.50" y="464.41" class="c">X9</text>
<text x="43.55" y="464.41" class="c">4</text>
<text x="17.50" y="481.11" class="c">X2</text>
<text x="43.55" y="481.11" class="c">11</text>
<text x="17.50" y="497.80" class="c">X5</text>
<text x="43.55" y="497.80" class="c">9</text>
<text x="17.50" y="514.50" class="c">X7</text>
<text x="43.55" y="514.50" class="c">6</text>
<text x="17.50" y="531.19" class="c">X4</text>
<text x="43.55" y="531.19" class="c">9</text>
<text x="17.50" y="547.89" class="c">X2</text>
<text x="43.55" y="547.89" class="c">12</text>
<text x="17.50" y="564.58" class="c">X9</text>
<text x="43.55" y="564.58" class="c">6</text>
<text x="17.50" y="581.28" class="c">X11</text>
<text x="43.55" y="581.28" class="c">5</text>
<text x="17.50" y="597.97" class="c">X7</text>
<text x="43.55" y="597.97" class="c">11</text>
<rect x="281.4" y="0.6" width="52.0" height="567.63" fill="#faee00" stroke="#8c7c14" stroke-width="1.2"/>
<line x1="302.6" y1="0.6" x2="302.6" y2="568.23" stroke="#8c7c14" stroke-width="1.1"/>
<line x1="281.4" y1="17.30" x2="333.4" y2="17.30" stroke="#8c7c14" stroke-width="1.1"/>
<line x1="281.4" y1="33.99" x2="333.4" y2="33.99" stroke="#8c7c14" stroke-width="1.1"/>
<line x1="281.4" y1="50.69" x2="333.4" y2="50.69" stroke="#8c7c14" stroke-width="1.1"/>
<line x1="281.4" y1="67.38" x2="333.4" y2="67.38" stroke="#8c7c14" stroke-width="1.1"/>
<line x1="281.4" y1="84.07" x2="333.4" y2="84.07" stroke="#8c7c14" stroke-width="1.1"/>
<line x1="281.4" y1="100.77" x2="333.4" y2="100.77" stroke="#8c7c14" stroke-width="1.1"/>
<line x1="281.4" y1="117.47" x2="333.4" y2="117.47" stroke="#8c7c14" stroke-width="1.1"/>
<line x1="281.4" y1="134.16" x2="333.4" y2="134.16" stroke="#8c7c14" stroke-width="1.1"/>
<line x1="281.4" y1="150.85" x2="333.4" y2="150.85" stroke="#8c7c14" stroke-width="1.1"/>
<line x1="281.4" y1="167.55" x2="333.4" y2="167.55" stroke="#8c7c14" stroke-width="1.1"/>
<line x1="281.4" y1="184.25" x2="333.4" y2="184.25" stroke="#8c7c14" stroke-width="1.1"/>
<line x1="281.4" y1="200.94" x2="333.4" y2="200.94" stroke="#8c7c14" stroke-width="1.1"/>
<line x1="281.4" y1="217.63" x2="333.4" y2="217.63" stroke="#8c7c14" stroke-width="1.1"/>
<line x1="281.4" y1="234.33" x2="333.4" y2="234.33" stroke="#8c7c14" stroke-width="1.1"/>
<line x1="281.4" y1="251.03" x2="333.4" y2="251.03" stroke="#8c7c14" stroke-width="1.1"/>
<line x1="281.4" y1="267.72" x2="333.4" y2="267.72" stroke="#8c7c14" stroke-width="1.1"/>
<line x1="281.4" y1="284.42" x2="333.4" y2="284.42" stroke="#8c7c14" stroke-width="1.1"/>
<line x1="281.4" y1="301.11" x2="333.4" y2="301.11" stroke="#8c7c14" stroke-width="1.1"/>
<line x1="281.4" y1="317.81" x2="333.4" y2="317.81" stroke="#8c7c14" stroke-width="1.1"/>
<line x1="281.4" y1="334.50" x2="333.4" y2="334.50" stroke="#8c7c14" stroke-width="1.1"/>
<line x1="281.4" y1="351.20" x2="333.4" y2="351.20" stroke="#8c7c14" stroke-width="1.1"/>
<line x1="281.4" y1="367.89" x2="333.4" y2="367.89" stroke="#8c7c14" stroke-width="1.1"/>
<line x1="281.4" y1="384.59" x2="333.4" y2="384.59" stroke="#8c7c14" stroke-width="1.1"/>
<line x1="281.4" y1="401.28" x2="333.4" y2="401.28" stroke="#8c7c14" stroke-width="1.1"/>
<line x1="281.4" y1="417.98" x2="333.4" y2="417.98" stroke="#8c7c14" stroke-width="1.1"/>
<line x1="281.4" y1="434.67" x2="333.4" y2="434.67" stroke="#8c7c14" stroke-width="1.1"/>
<line x1="281.4" y1="451.37" x2="333.4" y2="451.37" stroke="#8c7c14" stroke-width="1.1"/>
<line x1="281.4" y1="468.06" x2="333.4" y2="468.06" stroke="#8c7c14" stroke-width="1.1"/>
<line x1="281.4" y1="484.76" x2="333.4" y2="484.76" stroke="#8c7c14" stroke-width="1.1"/>
<line x1="281.4" y1="501.45" x2="333.4" y2="501.45" stroke="#8c7c14" stroke-width="1.1"/>
<line x1="281.4" y1="518.14" x2="333.4" y2="518.14" stroke="#8c7c14" stroke-width="1.1"/>
<line x1="281.4" y1="534.84" x2="333.4" y2="534.84" stroke="#8c7c14" stroke-width="1.1"/>
<line x1="281.4" y1="551.54" x2="333.4" y2="551.54" stroke="#8c7c14" stroke-width="1.1"/>
<text x="292.35" y="13.65" class="c">3</text>
<text x="318.35" y="13.65" class="c">X8</text>
<text x="292.35" y="30.34" class="c">1</text>
<text x="318.35" y="30.34" class="c">X8</text>
<text x="292.35" y="47.04" class="c">15</text>
<text x="318.35" y="47.04" class="c">X2</text>
<text x="292.35" y="63.73" class="c">3</text>
<text x="318.35" y="63.73" class="c">X6</text>
<text x="292.35" y="80.43" class="c">9</text>
<text x="318.35" y="80.43" class="c">X9</text>
<text x="292.35" y="97.12" class="c">8</text>
<text x="318.35" y="97.12" class="c">X3</text>
<text x="292.35" y="113.82" class="c">21</text>
<text x="318.35" y="113.82" class="c">X3</text>
<text x="292.35" y="130.51" class="c">20</text>
<text x="318.35" y="130.51" class="c">X4</text>
<text x="292.35" y="147.21" class="c">16</text>
<text x="318.35" y="147.21" class="c">X7</text>
<text x="292.35" y="163.90" class="c">9</text>
<text x="318.35" y="163.90" class="c">X11</text>
<text x="292.35" y="180.60" class="c">11</text>
<text x="318.35" y="180.60" class="c">X3</text>
<text x="292.35" y="197.29" class="c">18</text>
<text x="318.35" y="197.29" class="c">X11</text>
<text x="292.35" y="213.99" class="c">12</text>
<text x="318.35" y="213.99" class="c">X3</text>
<text x="292.35" y="230.68" class="c">1</text>
<text x="318.35" y="230.68" class="c">X9</text>
<text x="292.35" y="247.38" class="c">2</text>
<text x="318.35" y="247.38" class="c">X11</text>
<text x="292.35" y="264.07" class="c">2</text>
<text x="318.35" y="264.07" class="c">X1</text>
<text x="292.35" y="280.77" class="c">18</text>
<text x="318.35" y="280.77" class="c">X4</text>
<text x="292.35" y="297.46" class="c">9</text>
<text x="318.35" y="297.46" class="c">X7</text>
<text x="292.35" y="314.16" class="c">3</text>
<text x="318.35" y="314.16" class="c">X1</text>
<text x="292.35" y="330.85" class="c">4</text>
<text x="318.35" y="330.85" class="c">X8</text>
<text x="292.35" y="347.55" class="c">5</text>
<text x="318.35" y="347.55" class="c">X1</text>
<text x="292.35" y="364.24" class="c">6</text>
<text x="318.35" y="364.24" class="c">X1</text>
<text x="292.35" y="380.94" class="c">7</text>
<text x="318.35" y="380.94" class="c">X1</text>
<text x="292.35" y="397.63" class="c">5</text>
<text x="318.35" y="397.63" class="c">X8</text>
<text x="292.35" y="414.33" class="c">6</text>
<text x="318.35" y="414.33" class="c">X8</text>
<text x="292.35" y="431.02" class="c">7</text>
<text x="318.35" y="431.02" class="c">X8</text>
<text x="292.35" y="447.72" class="c">8</text>
<text x="318.35" y="447.72" class="c">X8</text>
<text x="292.35" y="464.41" class="c">8</text>
<text x="318.35" y="464.41" class="c">X1</text>
<text x="292.35" y="481.11" class="c">4</text>
<text x="318.35" y="481.11" class="c">X5</text>
<text x="292.35" y="497.80" class="c">11</text>
<text x="318.35" y="497.80" class="c">X4</text>
<text x="292.35" y="514.50" class="c">6</text>
<text x="318.35" y="514.50" class="c">X4</text>
<text x="292.35" y="531.19" class="c">5</text>
<text x="318.35" y="531.19" class="c">X5</text>
<text x="292.35" y="547.89" class="c">16</text>
<text x="318.35" y="547.89" class="c">X4</text>
<text x="292.35" y="564.58" class="c">13</text>
<text x="318.35" y="564.58" class="c">X6</text>
<rect x="368.2" y="17.295" width="52.400000000000034" height="567.63" fill="#faee00" stroke="#8c7c14" stroke-width="1.2"/>
<line x1="399.4" y1="17.295" x2="399.4" y2="584.92" stroke="#8c7c14" stroke-width="1.1"/>
<line x1="368.2" y1="33.99" x2="420.6" y2="33.99" stroke="#8c7c14" stroke-width="1.1"/>
<line x1="368.2" y1="50.69" x2="420.6" y2="50.69" stroke="#8c7c14" stroke-width="1.1"/>
<line x1="368.2" y1="67.38" x2="420.6" y2="67.38" stroke="#8c7c14" stroke-width="1.1"/>
<line x1="368.2" y1="84.08" x2="420.6" y2="84.08" stroke="#8c7c14" stroke-width="1.1"/>
<line x1="368.2" y1="100.77" x2="420.6" y2="100.77" stroke="#8c7c14" stroke-width="1.1"/>
<line x1="368.2" y1="117.47" x2="420.6" y2="117.47" stroke="#8c7c14" stroke-width="1.1"/>
<line x1="368.2" y1="134.16" x2="420.6" y2="134.16" stroke="#8c7c14" stroke-width="1.1"/>
<line x1="368.2" y1="150.86" x2="420.6" y2="150.86" stroke="#8c7c14" stroke-width="1.1"/>
<line x1="368.2" y1="167.55" x2="420.6" y2="167.55" stroke="#8c7c14" stroke-width="1.1"/>
<line x1="368.2" y1="184.25" x2="420.6" y2="184.25" stroke="#8c7c14" stroke-width="1.1"/>
<line x1="368.2" y1="200.94" x2="420.6" y2="200.94" stroke="#8c7c14" stroke-width="1.1"/>
<line x1="368.2" y1="217.63" x2="420.6" y2="217.63" stroke="#8c7c14" stroke-width="1.1"/>
<line x1="368.2" y1="234.33" x2="420.6" y2="234.33" stroke="#8c7c14" stroke-width="1.1"/>
<line x1="368.2" y1="251.03" x2="420.6" y2="251.03" stroke="#8c7c14" stroke-width="1.1"/>
<line x1="368.2" y1="267.72" x2="420.6" y2="267.72" stroke="#8c7c14" stroke-width="1.1"/>
<line x1="368.2" y1="284.42" x2="420.6" y2="284.42" stroke="#8c7c14" stroke-width="1.1"/>
<line x1="368.2" y1="301.11" x2="420.6" y2="301.11" stroke="#8c7c14" stroke-width="1.1"/>
<line x1="368.2" y1="317.81" x2="420.6" y2="317.81" stroke="#8c7c14" stroke-width="1.1"/>
<line x1="368.2" y1="334.50" x2="420.6" y2="334.50" stroke="#8c7c14" stroke-width="1.1"/>
<line x1="368.2" y1="351.19" x2="420.6" y2="351.19" stroke="#8c7c14" stroke-width="1.1"/>
<line x1="368.2" y1="367.89" x2="420.6" y2="367.89" stroke="#8c7c14" stroke-width="1.1"/>
<line x1="368.2" y1="384.59" x2="420.6" y2="384.59" stroke="#8c7c14" stroke-width="1.1"/>
<line x1="368.2" y1="401.28" x2="420.6" y2="401.28" stroke="#8c7c14" stroke-width="1.1"/>
<line x1="368.2" y1="417.98" x2="420.6" y2="417.98" stroke="#8c7c14" stroke-width="1.1"/>
<line x1="368.2" y1="434.67" x2="420.6" y2="434.67" stroke="#8c7c14" stroke-width="1.1"/>
<line x1="368.2" y1="451.37" x2="420.6" y2="451.37" stroke="#8c7c14" stroke-width="1.1"/>
<line x1="368.2" y1="468.06" x2="420.6" y2="468.06" stroke="#8c7c14" stroke-width="1.1"/>
<line x1="368.2" y1="484.76" x2="420.6" y2="484.76" stroke="#8c7c14" stroke-width="1.1"/>
<line x1="368.2" y1="501.45" x2="420.6" y2="501.45" stroke="#8c7c14" stroke-width="1.1"/>
<line x1="368.2" y1="518.14" x2="420.6" y2="518.14" stroke="#8c7c14" stroke-width="1.1"/>
<line x1="368.2" y1="534.84" x2="420.6" y2="534.84" stroke="#8c7c14" stroke-width="1.1"/>
<line x1="368.2" y1="551.53" x2="420.6" y2="551.53" stroke="#8c7c14" stroke-width="1.1"/>
<line x1="368.2" y1="568.23" x2="420.6" y2="568.23" stroke="#8c7c14" stroke-width="1.1"/>
<text x="385.45" y="30.34" class="c">X4</text>
<text x="410.35" y="30.34" class="c">5</text>
<text x="385.45" y="47.04" class="c">X9</text>
<text x="410.35" y="47.04" class="c">11</text>
<text x="385.45" y="63.73" class="c">X11</text>
<text x="410.35" y="63.73" class="c">8</text>
<text x="385.45" y="80.43" class="c">X6</text>
<text x="410.35" y="80.43" class="c">10</text>
<text x="385.45" y="97.12" class="c">X9</text>
<text x="410.35" y="97.12" class="c">17</text>
<text x="385.45" y="113.82" class="c">X2</text>
<text x="410.35" y="113.82" class="c">4</text>
<text x="385.45" y="130.51" class="c">X2</text>
<text x="410.35" y="130.51" class="c">2</text>
<text x="385.45" y="147.21" class="c">X6</text>
<text x="410.35" y="147.21" class="c">11</text>
<text x="385.45" y="163.90" class="c">X9</text>
<text x="410.35" y="163.90" class="c">2</text>
<text x="385.45" y="180.60" class="c">X2</text>
<text x="410.35" y="180.60" class="c">13</text>
<text x="385.45" y="197.29" class="c">X9</text>
<text x="410.35" y="197.29" class="c">7</text>
<text x="385.45" y="213.99" class="c">X9</text>
<text x="410.35" y="213.99" class="c">10</text>
<text x="385.45" y="230.68" class="c">X9</text>
<text x="410.35" y="230.68" class="c">19</text>
<text x="385.45" y="247.38" class="c">X4</text>
<text x="410.35" y="247.38" class="c">1</text>
<text x="385.45" y="264.07" class="c">X2</text>
<text x="410.35" y="264.07" class="c">14</text>
<text x="385.45" y="280.77" class="c">X9</text>
<text x="410.35" y="280.77" class="c">8</text>
<text x="385.45" y="297.46" class="c">X2</text>
<text x="410.35" y="297.46" class="c">17</text>
<text x="385.45" y="314.16" class="c">X6</text>
<text x="410.35" y="314.16" class="c">5</text>
<text x="385.45" y="330.85" class="c">X4</text>
<text x="410.35" y="330.85" class="c">2</text>
<text x="385.45" y="347.55" class="c">X3</text>
<text x="410.35" y="347.55" class="c">1</text>
<text x="385.45" y="364.24" class="c">X7</text>
<text x="410.35" y="364.24" class="c">7</text>
<text x="385.45" y="380.94" class="c">X3</text>
<text x="410.35" y="380.94" class="c">4</text>
<text x="385.45" y="397.63" class="c">X7</text>
<text x="410.35" y="397.63" class="c">5</text>
<text x="385.45" y="414.33" class="c">X3</text>
<text x="410.35" y="414.33" class="c">6</text>
<text x="385.45" y="431.02" class="c">X7</text>
<text x="410.35" y="431.02" class="c">12</text>
<text x="385.45" y="447.72" class="c">X4</text>
<text x="410.35" y="447.72" class="c">12</text>
<text x="385.45" y="464.41" class="c">X3</text>
<text x="410.35" y="464.41" class="c">7</text>
<text x="385.45" y="481.11" class="c">X7</text>
<text x="410.35" y="481.11" class="c">13</text>
<text x="385.45" y="497.80" class="c">X3</text>
<text x="410.35" y="497.80" class="c">15</text>
<text x="385.45" y="514.50" class="c">X11</text>
<text x="410.35" y="514.50" class="c">11</text>
<text x="385.45" y="531.19" class="c">X3</text>
<text x="410.35" y="531.19" class="c">16</text>
<text x="385.45" y="547.89" class="c">X11</text>
<text x="410.35" y="547.89" class="c">12</text>
<text x="385.45" y="564.58" class="c">X3</text>
<text x="410.35" y="564.58" class="c">17</text>
<text x="385.45" y="581.28" class="c">X11</text>
<text x="410.35" y="581.28" class="c">13</text>
<rect x="647.4" y="0.6" width="51.89999999999998" height="601.02" fill="#faee00" stroke="#8c7c14" stroke-width="1.2"/>
<line x1="668.0" y1="0.6" x2="668.0" y2="601.62" stroke="#8c7c14" stroke-width="1.1"/>
<line x1="647.4" y1="17.30" x2="699.3" y2="17.30" stroke="#8c7c14" stroke-width="1.1"/>
<line x1="647.4" y1="33.99" x2="699.3" y2="33.99" stroke="#8c7c14" stroke-width="1.1"/>
<line x1="647.4" y1="50.69" x2="699.3" y2="50.69" stroke="#8c7c14" stroke-width="1.1"/>
<line x1="647.4" y1="67.38" x2="699.3" y2="67.38" stroke="#8c7c14" stroke-width="1.1"/>
<line x1="647.4" y1="84.07" x2="699.3" y2="84.07" stroke="#8c7c14" stroke-width="1.1"/>
<line x1="647.4" y1="100.77" x2="699.3" y2="100.77" stroke="#8c7c14" stroke-width="1.1"/>
<line x1="647.4" y1="117.47" x2="699.3" y2="117.47" stroke="#8c7c14" stroke-width="1.1"/>
<line x1="647.4" y1="134.16" x2="699.3" y2="134.16" stroke="#8c7c14" stroke-width="1.1"/>
<line x1="647.4" y1="150.85" x2="699.3" y2="150.85" stroke="#8c7c14" stroke-width="1.1"/>
<line x1="647.4" y1="167.55" x2="699.3" y2="167.55" stroke="#8c7c14" stroke-width="1.1"/>
<line x1="647.4" y1="184.25" x2="699.3" y2="184.25" stroke="#8c7c14" stroke-width="1.1"/>
<line x1="647.4" y1="200.94" x2="699.3" y2="200.94" stroke="#8c7c14" stroke-width="1.1"/>
<line x1="647.4" y1="217.63" x2="699.3" y2="217.63" stroke="#8c7c14" stroke-width="1.1"/>
<line x1="647.4" y1="234.33" x2="699.3" y2="234.33" stroke="#8c7c14" stroke-width="1.1"/>
<line x1="647.4" y1="251.03" x2="699.3" y2="251.03" stroke="#8c7c14" stroke-width="1.1"/>
<line x1="647.4" y1="267.72" x2="699.3" y2="267.72" stroke="#8c7c14" stroke-width="1.1"/>
<line x1="647.4" y1="284.42" x2="699.3" y2="284.42" stroke="#8c7c14" stroke-width="1.1"/>
<line x1="647.4" y1="301.11" x2="699.3" y2="301.11" stroke="#8c7c14" stroke-width="1.1"/>
<line x1="647.4" y1="317.81" x2="699.3" y2="317.81" stroke="#8c7c14" stroke-width="1.1"/>
<line x1="647.4" y1="334.50" x2="699.3" y2="334.50" stroke="#8c7c14" stroke-width="1.1"/>
<line x1="647.4" y1="351.20" x2="699.3" y2="351.20" stroke="#8c7c14" stroke-width="1.1"/>
<line x1="647.4" y1="367.89" x2="699.3" y2="367.89" stroke="#8c7c14" stroke-width="1.1"/>
<line x1="647.4" y1="384.59" x2="699.3" y2="384.59" stroke="#8c7c14" stroke-width="1.1"/>
<line x1="647.4" y1="401.28" x2="699.3" y2="401.28" stroke="#8c7c14" stroke-width="1.1"/>
<line x1="647.4" y1="417.98" x2="699.3" y2="417.98" stroke="#8c7c14" stroke-width="1.1"/>
<line x1="647.4" y1="434.67" x2="699.3" y2="434.67" stroke="#8c7c14" stroke-width="1.1"/>
<line x1="647.4" y1="451.37" x2="699.3" y2="451.37" stroke="#8c7c14" stroke-width="1.1"/>
<line x1="647.4" y1="468.06" x2="699.3" y2="468.06" stroke="#8c7c14" stroke-width="1.1"/>
<line x1="647.4" y1="484.76" x2="699.3" y2="484.76" stroke="#8c7c14" stroke-width="1.1"/>
<line x1="647.4" y1="501.45" x2="699.3" y2="501.45" stroke="#8c7c14" stroke-width="1.1"/>
<line x1="647.4" y1="518.14" x2="699.3" y2="518.14" stroke="#8c7c14" stroke-width="1.1"/>
<line x1="647.4" y1="534.84" x2="699.3" y2="534.84" stroke="#8c7c14" stroke-width="1.1"/>
<line x1="647.4" y1="551.54" x2="699.3" y2="551.54" stroke="#8c7c14" stroke-width="1.1"/>
<line x1="647.4" y1="568.23" x2="699.3" y2="568.23" stroke="#8c7c14" stroke-width="1.1"/>
<line x1="647.4" y1="584.93" x2="699.3" y2="584.93" stroke="#8c7c14" stroke-width="1.1"/>
<text x="658.05" y="13.65" class="c">4</text>
<text x="684.00" y="13.65" class="c">X4</text>
<text x="658.05" y="30.34" class="c">17</text>
<text x="684.00" y="30.34" class="c">X4</text>
<text x="658.05" y="47.04" class="c">8</text>
<text x="684.00" y="47.04" class="c">X7</text>
<text x="658.05" y="63.73" class="c">13</text>
<text x="684.00" y="63.73" class="c">X4</text>
<text x="658.05" y="80.43" class="c">15</text>
<text x="684.00" y="80.43" class="c">X9</text>
<text x="658.05" y="97.12" class="c">8</text>
<text x="684.00" y="97.12" class="c">X6</text>
<text x="658.05" y="113.82" class="c">14</text>
<text x="684.00" y="113.82" class="c">X9</text>
<text x="658.05" y="130.51" class="c">3</text>
<text x="684.00" y="130.51" class="c">X2</text>
<text x="658.05" y="147.21" class="c">19</text>
<text x="684.00" y="147.21" class="c">X4</text>
<text x="658.05" y="163.90" class="c">17</text>
<text x="684.00" y="163.90" class="c">X7</text>
<text x="658.05" y="180.60" class="c">5</text>
<text x="684.00" y="180.60" class="c">X2</text>
<text x="658.05" y="197.29" class="c">10</text>
<text x="684.00" y="197.29" class="c">X3</text>
<text x="658.05" y="213.99" class="c">7</text>
<text x="684.00" y="213.99" class="c">X11</text>
<text x="658.05" y="230.68" class="c">19</text>
<text x="684.00" y="230.68" class="c">X3</text>
<text x="658.05" y="247.38" class="c">5</text>
<text x="684.00" y="247.38" class="c">X11</text>
<text x="658.05" y="264.07" class="c">20</text>
<text x="684.00" y="264.07" class="c">X3</text>
<text x="658.05" y="280.77" class="c">16</text>
<text x="684.00" y="280.77" class="c">X11</text>
<text x="658.05" y="297.46" class="c">1</text>
<text x="684.00" y="297.46" class="c">X5</text>
<text x="658.05" y="314.16" class="c">2</text>
<text x="684.00" y="314.16" class="c">X5</text>
<text x="658.05" y="330.85" class="c">8</text>
<text x="684.00" y="330.85" class="c">X2</text>
<text x="658.05" y="347.55" class="c">14</text>
<text x="684.00" y="347.55" class="c">X4</text>
<text x="658.05" y="364.24" class="c">6</text>
<text x="684.00" y="364.24" class="c">X6</text>
<text x="658.05" y="380.94" class="c">3</text>
<text x="684.00" y="380.94" class="c">X5</text>
<text x="658.05" y="397.63" class="c">7</text>
<text x="684.00" y="397.63" class="c">X2</text>
<text x="658.05" y="414.33" class="c">6</text>
<text x="684.00" y="414.33" class="c">X5</text>
<text x="658.05" y="431.02" class="c">15</text>
<text x="684.00" y="431.02" class="c">X4</text>
<text x="658.05" y="447.72" class="c">7</text>
<text x="684.00" y="447.72" class="c">X6</text>
<text x="658.05" y="464.41" class="c">10</text>
<text x="684.00" y="464.41" class="c">X7</text>
<text x="658.05" y="481.11" class="c">4</text>
<text x="684.00" y="481.11" class="c">X11</text>
<text x="658.05" y="497.80" class="c">14</text>
<text x="684.00" y="497.80" class="c">X7</text>
<text x="658.05" y="514.50" class="c">6</text>
<text x="684.00" y="514.50" class="c">X11</text>
<text x="658.05" y="531.19" class="c">2</text>
<text x="684.00" y="531.19" class="c">X3</text>
<text x="658.05" y="547.89" class="c">3</text>
<text x="684.00" y="547.89" class="c">X3</text>
<text x="658.05" y="564.58" class="c">2</text>
<text x="684.00" y="564.58" class="c">X6</text>
<text x="658.05" y="581.28" class="c">16</text>
<text x="684.00" y="581.28" class="c">X9</text>
<text x="658.05" y="597.97" class="c">5</text>
<text x="684.00" y="597.97" class="c">X3</text>
</svg></body></html>
